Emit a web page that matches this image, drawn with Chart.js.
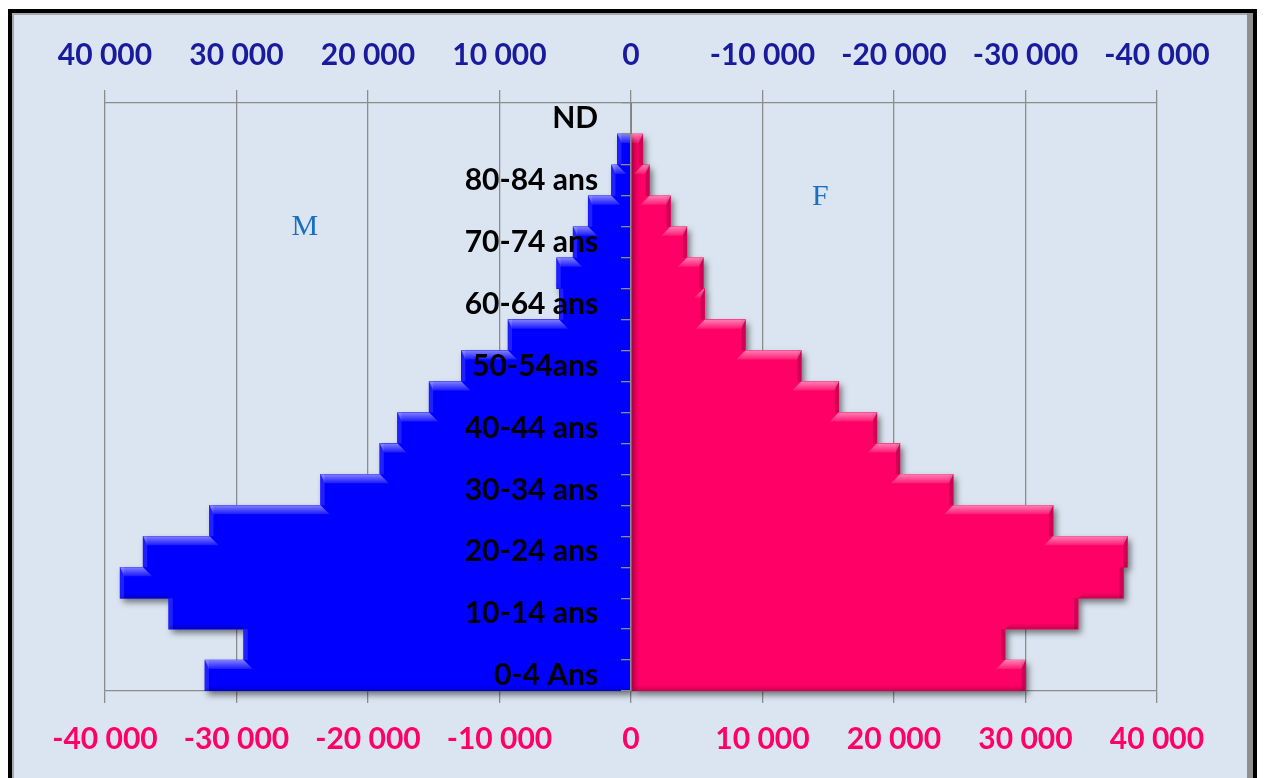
<!DOCTYPE html>
<html>
<head>
<meta charset="utf-8">
<script src="https://cdn.jsdelivr.net/npm/chart.js@4.4.1/dist/chart.umd.min.js"></script>
<style>
  html, body { margin: 0; padding: 0; background: #ffffff; width: 1264px; height: 778px; overflow: hidden; }
  #frame { position: absolute; left: 8px; top: 9px; width: 1249px; height: 800px; box-sizing: border-box;
           border: 4px solid #000; background: #dbe5f1;
           box-shadow: inset -6px 0 0 #8f8f8f, inset 2px 2px 0 #a8a8a8; }
  #c { position: absolute; left: 0; top: 0; }
</style>
</head>
<body>
<div id="frame"></div>
<canvas id="c" width="1264" height="778"></canvas>
<script>
// Age groups, from the bottom of the pyramid to the top
const ageGroups = ['0-4 Ans', '5-9 ans', '10-14 ans', '15-19 ans', '20-24 ans', '25-29 ans',
  '30-34 ans', '35-39 ans', '40-44 ans', '45-49 ans', '50-54ans', '55-59 ans', '60-64 ans',
  '65-69 ans', '70-74 ans', '75-79 ans', '80-84 ans', '85 ans et +', 'ND'];
// Men (drawn to the left, negative values)
const menValues = [-32400, -29450, -35150, -38850, -37100, -32050, -23600, -19100, -17750,
  -15350, -12900, -9350, -5450, -5650, -4400, -3250, -1480, -1030, 0];
// Women (drawn to the right)
const womenValues = [30000, 28450, 34000, 37450, 37750, 32100, 24500, 20450, 18700,
  15800, 12950, 8700, 5600, 5500, 4250, 3000, 1400, 900, 0];
// x tick values
const xTicks = [-40000, -30000, -20000, -10000, 0, 10000, 20000, 30000, 40000];
// Series name annotations: [text, x value, category index]
const seriesNames = [['M', -24800, 14.5], ['F', 14400, 15.45]];

const fmt = v => {
  const a = Math.abs(Math.round(v)).toString().replace(/\B(?=(\d{3})+(?!\d))/g, '\u00a0');
  return (v < 0 ? '-' : '') + a;
};

const shadowBevel = {
  id: 'shadowBevel',
  beforeDatasetDraw(chart, args) {
    const ctx = chart.ctx, meta = args.meta;
    const ds = chart.data.datasets[args.index];
    ctx.save();
    ctx.shadowColor = 'rgba(0,0,0,0.5)';
    ctx.shadowBlur = 6;
    ctx.shadowOffsetX = 3;
    ctx.shadowOffsetY = 4;
    ctx.fillStyle = ds.backgroundColor;
    ctx.beginPath();
    meta.data.forEach(el => {
      const p = el.getProps(['x', 'y', 'base', 'height'], true);
      const w = Math.abs(p.x - p.base);
      if (w > 0.5) ctx.rect(Math.min(p.x, p.base), p.y - p.height / 2, w, p.height);
    });
    ctx.fill();
    ctx.restore();
  },
  afterDatasetDraw(chart, args) {
    const ctx = chart.ctx, meta = args.meta;
    const h = 9, hb = 6, ew = 4;
    ctx.save();
    for (let i = 0; i < meta.data.length; i++) {
      const p = meta.data[i].getProps(['x', 'y', 'base', 'height'], true);
      const len = Math.abs(p.x - p.base);
      if (len < 1) continue;
      const dir = Math.sign(p.base - p.x);
      const top = p.y - p.height / 2, bot = p.y + p.height / 2;
      const nxt = meta.data[i + 1] ? meta.data[i + 1].getProps(['x'], true).x : p.base;
      const prv = meta.data[i - 1] ? meta.data[i - 1].getProps(['x'], true).x : p.base;
      // outer end edge
      ctx.fillStyle = dir < 0 ? 'rgba(0,0,0,0.18)' : 'rgba(255,255,255,0.12)';
      ctx.fillRect(dir < 0 ? p.x - ew : p.x, top, ew, p.height);
      // top highlight where the bar sticks out beyond the one above
      if (len > Math.abs(nxt - p.base) + 0.5) {
        let x2 = nxt + dir * h;
        if (Math.sign(p.base - x2) !== dir) x2 = p.base;
        const g = ctx.createLinearGradient(0, top, 0, top + h);
        g.addColorStop(0, 'rgba(255,255,255,0.5)');
        g.addColorStop(1, 'rgba(255,255,255,0.1)');
        ctx.fillStyle = g;
        ctx.beginPath();
        ctx.moveTo(p.x, top);
        ctx.lineTo(nxt, top);
        ctx.lineTo(x2, top + h);
        ctx.lineTo(p.x + dir * ew, top + h);
        ctx.closePath();
        ctx.fill();
      }
      // bottom darkening where the bar sticks out beyond the one below
      if (len > Math.abs(prv - p.base) + 0.5) {
        const g2 = ctx.createLinearGradient(0, bot - hb, 0, bot);
        g2.addColorStop(0, 'rgba(0,0,0,0)');
        g2.addColorStop(1, 'rgba(0,0,0,0.2)');
        ctx.fillStyle = g2;
        ctx.beginPath();
        ctx.moveTo(p.x + dir * ew, bot - hb);
        ctx.lineTo(prv - dir * hb, bot - hb);
        ctx.lineTo(prv, bot);
        ctx.lineTo(p.x, bot);
        ctx.closePath();
        ctx.fill();
      }
    }
    ctx.restore();
  },
  afterDraw(chart) {
    const ctx = chart.ctx;
    const xs = chart.scales.x, ys = chart.scales.y;
    ctx.save();
    ctx.font = '30px "Liberation Serif", "Times New Roman", serif';
    ctx.fillStyle = '#1a6fc0';
    ctx.textAlign = 'center';
    ctx.textBaseline = 'middle';
    seriesNames.forEach(([t, xv, yi]) => {
      ctx.fillText(t, xs.getPixelForValue(xv), ys.getPixelForValue(yi));
    });
    ctx.restore();
  }
};

const gridColor = '#8c8c8c';
new Chart(document.getElementById('c'), {
  type: 'bar',
  data: {
    labels: ageGroups,
    datasets: [
      { label: 'M', data: menValues, backgroundColor: '#0000ff', borderWidth: 0,
        barPercentage: 1, categoryPercentage: 1, xAxisID: 'x', yAxisID: 'y' },
      { label: 'F', data: womenValues, backgroundColor: '#ff0066', borderWidth: 0,
        barPercentage: 1, categoryPercentage: 1, xAxisID: 'x', yAxisID: 'y' }
    ]
  },
  options: {
    indexAxis: 'y',
    responsive: false,
    animation: false,
    layout: { padding: { left: 105, right: 107, top: 0, bottom: 0 } },
    plugins: { legend: { display: false }, tooltip: { enabled: false } },
    scales: {
      x: {
        type: 'linear', position: 'bottom', stacked: true,
        min: -40000, max: 40000,
        afterBuildTicks: s => { s.ticks = xTicks.map(v => ({ value: v })); },
        afterFit: s => { s.height = 87; },
        grid: { color: gridColor, lineWidth: 1.3, tickLength: 12, drawTicks: true },
        border: { display: true, color: gridColor, width: 1.3 },
        ticks: { color: '#ff0066', padding: 18, maxRotation: 0, autoSkip: false,
          font: { family: 'Lato', size: 30, weight: 'bold' },
          callback: v => fmt(v) }
      },
      x2: {
        type: 'linear', position: 'top',
        min: -40000, max: 40000,
        afterBuildTicks: s => { s.ticks = xTicks.map(v => ({ value: v })); },
        afterFit: s => { s.height = 103; },
        grid: { color: gridColor, lineWidth: 1.3, tickLength: 13, drawOnChartArea: false, drawTicks: true },
        border: { display: true, color: gridColor, width: 1.3 },
        ticks: { color: '#1a1a9c', padding: 17, maxRotation: 0, autoSkip: false,
          font: { family: 'Lato', size: 30, weight: 'bold' },
          callback: v => fmt(-v) }
      },
      y: {
        type: 'category', stacked: true, reverse: true,
        position: { x: -2500 },
        grid: { display: false, drawOnChartArea: false },
        border: { display: false },
        ticks: { color: '#000', autoSkip: false, padding: 0, z: 2,
          font: { family: 'Lato', size: 30, weight: 'bold' },
          callback: function (v, i) { return i % 2 === 0 ? this.getLabelForValue(v) : ''; } }
      },
      y2: {
        type: 'category', reverse: true, labels: ageGroups,
        position: { x: 0 },
        grid: { color: gridColor, lineWidth: 1.3, drawOnChartArea: false, drawTicks: true, tickLength: 9, offset: true, z: 1 },
        border: { display: true, color: gridColor, width: 1.5, z: 1 },
        ticks: { display: false }
      }
    }
  },
  plugins: [shadowBevel]
});
</script>
</body>
</html>
